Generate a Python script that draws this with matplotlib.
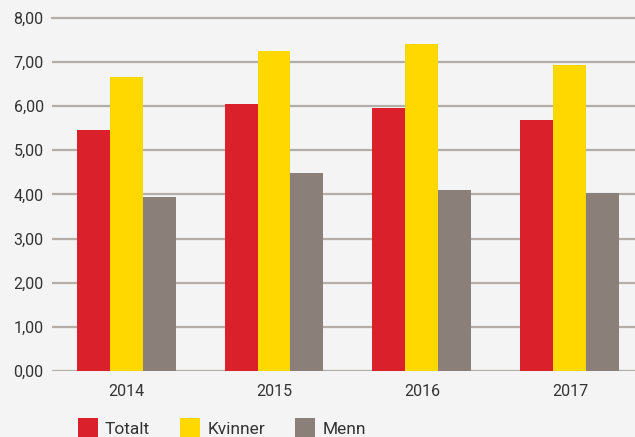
import numpy as np
import matplotlib.pyplot as plt

years = ['2014', '2015', '2016', '2017']
totalt = [5.46, 6.05, 5.97, 5.69]
kvinner = [6.67, 7.26, 7.41, 6.94]
menn = [3.95, 4.49, 4.10, 4.04]
series_names = ['Totalt', 'Kvinner', 'Menn']
colors = ['#d9202b', '#ffd800', '#8a7f79']
y_ticks = [0, 1, 2, 3, 4, 5, 6, 7, 8]

plt.rcParams['font.family'] = ['Roboto', 'DejaVu Sans']
bg = '#f4f4f4'

fig = plt.figure(figsize=(6.35, 4.37), dpi=100, facecolor=bg)
ax = fig.add_axes([0.082, 0.151, 0.918, 0.808], facecolor=bg)

x = np.arange(len(years))
w = 0.223
handles = []
for i, vals in enumerate([totalt, kvinner, menn]):
    b = ax.bar(x + (i - 1) * w, vals, w, color=colors[i], zorder=3,
               label=series_names[i])
    handles.append(b)

ax.set_xlim(-0.5, 3.44)
ax.set_ylim(0, 8)
ax.set_yticks(y_ticks)
ax.set_yticklabels(['%d,00' % v for v in y_ticks])
ax.set_xticks(x)
ax.set_xticklabels(years)
ax.grid(axis='y', color='#b3aea9', linewidth=1.6, zorder=0)
ax.tick_params(length=0, labelsize=11.5, colors='#333333')
ax.tick_params(axis='x', pad=9)
ax.tick_params(axis='y', pad=6)
for s in ax.spines.values():
    s.set_visible(False)
for lbl in ax.get_yticklabels() + ax.get_xticklabels():
    lbl.set_clip_on(False)
ax.yaxis.get_gridlines()[-1].set_clip_on(False)

fig.legend(handles=handles, loc='lower left', bbox_to_anchor=(0.098, -0.04),
           ncol=3, frameon=False, fontsize=12.5, handlelength=1.15,
           handleheight=1.45, columnspacing=1.75, handletextpad=0.4,
           labelcolor='#333333')

fig.savefig('out.png', dpi=100, facecolor=bg)
